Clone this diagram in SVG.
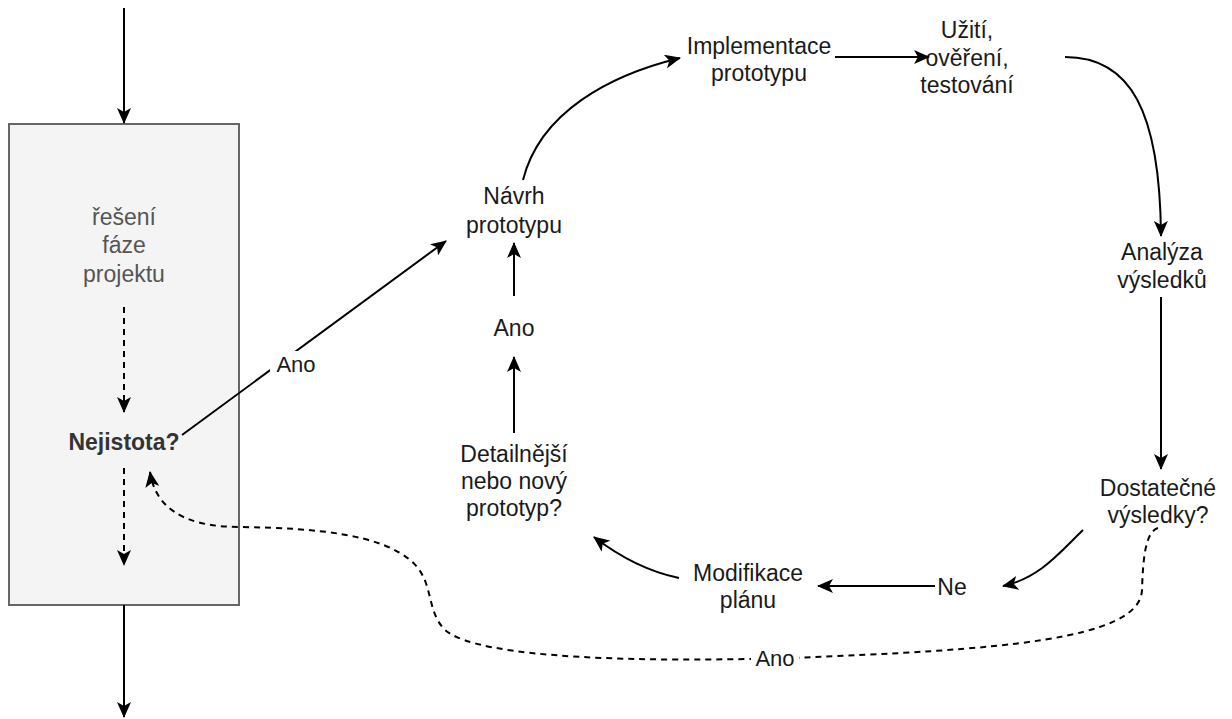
<svg xmlns="http://www.w3.org/2000/svg" width="1232" height="719" viewBox="0 0 1232 719">
<style>
text{font-family:"Liberation Sans",Arial,sans-serif;font-size:23px;fill:#1a1a1a;text-anchor:middle}
.g{fill:#555555}
.b{font-weight:bold;fill:#333333}
.lbl{font-size:22px}
.c{fill:none;stroke:#000;stroke-width:2}
.d{stroke-dasharray:6 5}
</style>
<defs>
<marker id="ah" markerUnits="userSpaceOnUse" markerWidth="16" markerHeight="14" viewBox="0 0 16 14" refX="15" refY="7" orient="auto">
<path d="M0,0 L16,7 L0,14 L4,7 Z" fill="#000"/>
</marker>
</defs>
<g id="phase">
<rect x="9" y="124" width="230" height="481" fill="#f4f4f4" stroke="#666666" stroke-width="2"/>
<text class="g" x="124" y="225">řešení</text>
<text class="g" x="124" y="253">fáze</text>
<text class="g" x="124" y="282">projektu</text>
</g>
<g id="nejistota"><text class="b" x="124" y="450">Nejistota?</text></g>
<g id="navrh"><text x="514" y="204">Návrh</text><text x="514" y="233">prototypu</text></g>
<g id="ano-mid"><text x="514" y="336">Ano</text></g>
<g id="detail"><text x="514" y="462">Detailnější</text><text x="514" y="489">nebo nový</text><text x="514" y="516">prototyp?</text></g>
<g id="impl"><text x="759" y="54">Implementace</text><text x="759" y="81">prototypu</text></g>
<g id="uziti"><text x="967" y="38">Užití,</text><text x="967" y="66">ověření,</text><text x="967" y="93">testování</text></g>
<g id="analyza"><text x="1162" y="260">Analýza</text><text x="1162" y="288">výsledků</text></g>
<g id="dostatecne"><text x="1158" y="496">Dostatečné</text><text x="1158" y="523">výsledky?</text></g>
<g id="ne"><text x="952" y="595">Ne</text></g>
<g id="modifikace"><text x="748" y="581">Modifikace</text><text x="748" y="608">plánu</text></g>
<g id="connectors">
<path class="c" d="M124 8 L124 123" marker-end="url(#ah)"/>
<path class="c" d="M124 605 L124 717" marker-end="url(#ah)"/>
<path class="c d" d="M124 307 L124 412" marker-end="url(#ah)"/>
<path class="c d" d="M124 468 L124 565" marker-end="url(#ah)"/>
<path class="c" d="M182 435 L446 241" marker-end="url(#ah)"/>
<rect x="270" y="351" width="52" height="26" fill="#ffffff"/>
<text class="lbl" x="296" y="372">Ano</text>
<path class="c" d="M514 296 L514 243" marker-end="url(#ah)"/>
<path class="c" d="M514 433 L514 357" marker-end="url(#ah)"/>
<path class="c" d="M523 180 C540 112 610 75 680 58" marker-end="url(#ah)"/>
<path class="c" d="M835 57 L929 57" marker-end="url(#ah)"/>
<path class="c" d="M1065 57 C1130 57 1160 110 1161 236" marker-end="url(#ah)"/>
<path class="c" d="M1161 297 L1161 469" marker-end="url(#ah)"/>
<path class="c" d="M1083 530 C1060 552 1040 578 1003 586" marker-end="url(#ah)"/>
<path class="c" d="M935 586 L818 586" marker-end="url(#ah)"/>
<path class="c" d="M679 578 C650 572 620 557 594 537" marker-end="url(#ah)"/>
<path class="c d" d="M1158 528 C1145 532 1143 560 1142 590 C1140 640 1000 650 790 658 C650 662 480 660 445 630 C425 610 435 580 410 560 C380 535 320 528 240 527 C180 527 155 505 150 472" marker-end="url(#ah)"/>
<rect x="751" y="645" width="48" height="26" fill="#ffffff"/>
<text class="lbl" x="775" y="666">Ano</text>
</g>
</svg>
